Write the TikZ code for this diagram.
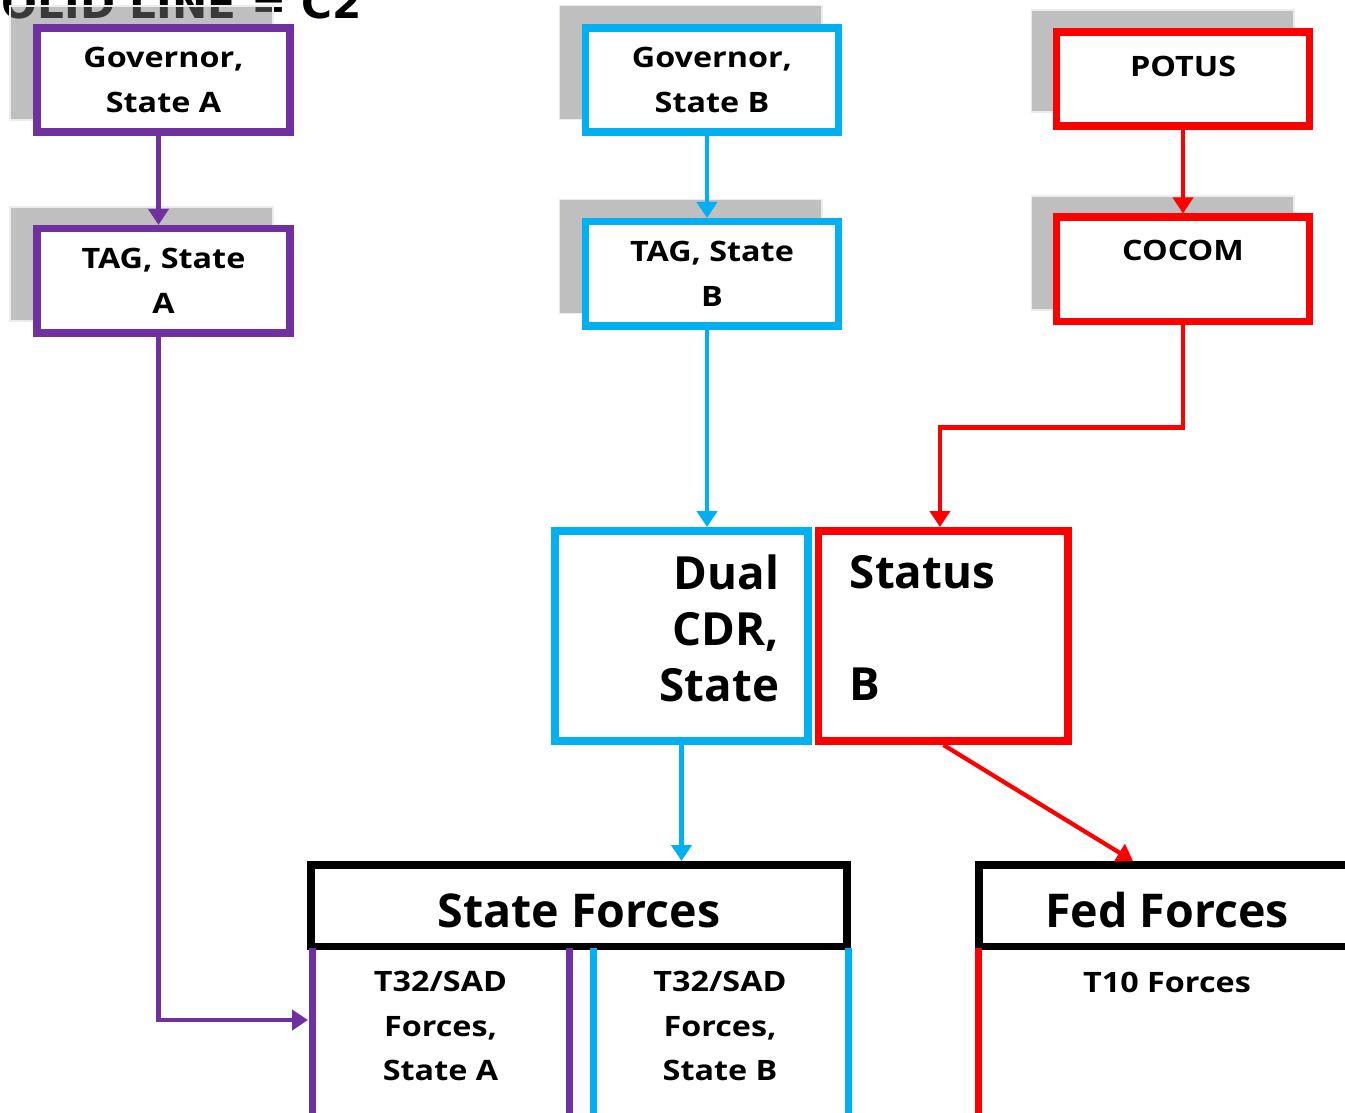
\documentclass[tikz,border=0pt]{standalone}
\usepackage{fontspec}
\setmainfont{Open Sans}
\newfontfamily\boxsans{Open Sans}[FakeStretch=1.15]
\newfontfamily\legendfont{DejaVu Sans}
\usepackage{xcolor}
\usetikzlibrary{shapes.geometric, arrows.meta, positioning, calc}

\definecolor{govpurple}{HTML}{7030A0}
\definecolor{statecyan}{HTML}{00B0F0}
\definecolor{fedred}{HTML}{FF0000}
\definecolor{shadowgray}{HTML}{797979}

\newcommand{\boxtxt}{\boxsans\fontsize{16}{25.6}\selectfont\bfseries}
\newcommand{\cdrtxt}{\fontsize{26}{31.9}\selectfont\bfseries}
\newcommand{\headtxt}{\fontsize{26.5}{30}\selectfont\bfseries}
\newcommand{\coltxt}{\boxsans\fontsize{16}{25.3}\selectfont\bfseries}

\tikzstyle{shadowbox} = [rectangle, minimum width=5.26cm, minimum height=2.28cm, fill=shadowgray, fill opacity=0.48, draw=gray!15, line width=0.6pt]
\tikzstyle{purplebox} = [rectangle, minimum width=5.07cm, minimum height=2.09cm, align=center, draw=govpurple, line width=0.15cm, fill=white, font=\boxtxt]
\tikzstyle{cyanbox} = [rectangle, minimum width=5.07cm, minimum height=2.09cm, align=center, draw=statecyan, line width=0.15cm, fill=white, font=\boxtxt]
\tikzstyle{redbox} = [rectangle, minimum width=5.07cm, minimum height=2.09cm, align=center, draw=fedred, line width=0.15cm, fill=white, font=\boxtxt]
\tikzstyle{forcebox} = [rectangle, minimum height=1.63cm, draw=black, line width=0.15cm, fill=white, font=\headtxt, text height=0.88cm]
\tikzstyle{colline} = [line width=0.14cm]
\tikzstyle{purplearrow} = [govpurple, line width=0.085cm, -{Triangle[width=0.4cm,length=0.32cm]}]
\tikzstyle{cyanarrow} = [statecyan, line width=0.085cm, -{Triangle[width=0.4cm,length=0.32cm]}]
\tikzstyle{redarrow} = [fedred, line width=0.085cm, -{Triangle[width=0.4cm,length=0.32cm]}]

\begin{document}
\begin{tikzpicture}[x=0.02cm, y=-0.02cm]
    \useasboundingbox (0,0) rectangle (1345,1112);

    % Legenda in alto
    \node (legend) [anchor=base east, inner sep=0, font=\legendfont\fontsize{24}{28}\selectfont\bfseries] at (362,18) {SOLID LINE = C2};

    % Ombre
    \node (govAsh) [shadowbox] at (141.5,63) {};
    \node (tagAsh) [shadowbox] at (141.5,264) {};
    \node (govBsh) [shadowbox] at (690.5,62.5) {};
    \node (tagBsh) [shadowbox] at (690.5,256.5) {};
    \node (potusSh) [shadowbox, minimum height=2.04cm] at (1162.5,61) {};
    \node (cocomSh) [shadowbox] at (1162.5,253) {};

    % Nodi del diagramma
    \node (govA) [purplebox] at (163.5,80) {Governor,\\State A};
    \node (tagA) [purplebox, below of=govA, node distance=4.02cm] {TAG, State\\A};
    \node (govB) [cyanbox] at (712,80) {Governor,\\State B};
    \node (tagB) [cyanbox, below of=govB, node distance=3.88cm] {TAG, State\\B};
    \node (potus) [redbox, minimum height=1.89cm, text depth=0.52cm] at (1183,79) {POTUS};
    \node (cocom) [redbox, below of=potus, node distance=3.81cm, text depth=0.76cm] {COCOM};
    \node (dual) [cyanbox, minimum height=4.21cm, text width=3.9cm, align=right, font=\cdrtxt, text depth=2.56cm] at (681.5,636) {Dual\\CDR,\\State};
    \node (status) [redbox, right of=dual, node distance=5.24cm, minimum width=4.99cm, minimum height=4.21cm, text width=3.74cm, align=left, font=\cdrtxt, text depth=2.56cm] {Status\\~\\B};
    \node (stateF) [forcebox, minimum width=10.73cm] at (579,905.5) {State Forces};
    \node (fedF) [forcebox, minimum width=7.53cm] at (1167,905.5) {Fed Forces};

    % Colonne sotto le forze
    \draw [colline, govpurple] (312,948) -- (312,1125);
    \draw [colline, govpurple] (569,948) -- (569,1125);
    \draw [colline, statecyan] (593,948) -- (593,1125);
    \draw [colline, statecyan] (848,948) -- (848,1125);
    \draw [colline, fedred] (978,948) -- (978,1125);
    \node (colA) [align=center, font=\coltxt] at (440.5,1026) {T32/SAD\\Forces,\\State A};
    \node (colB) [align=center, font=\coltxt] at (720,1026) {T32/SAD\\Forces,\\State B};
    \node (t10) [font=\coltxt] at (1167,982) {T10 Forces};
    \coordinate (aIn) at (308,1020);

    % Frecce del diagramma
    \draw [purplearrow] ([xshift=-0.1cm]govA.south) -- ([xshift=-0.1cm]tagA.north);
    \draw [purplearrow] ([xshift=-0.1cm]tagA.south) |- (aIn);
    \draw [cyanarrow] ([xshift=-0.1cm]govB.south) -- ([xshift=-0.1cm]tagB.north);
    \draw [cyanarrow] ([xshift=-0.1cm]tagB.south) -- ([xshift=-0.1cm]tagB.south |- dual.north);
    \draw [cyanarrow] (dual.south) -- (dual.south |- stateF.north);
    \draw [redarrow] (potus) -- (cocom);
    \draw [redarrow] (cocom.south) -- ++(0,102) -| ([xshift=-0.07cm]status.north);
    \draw [redarrow] (status.south) -- ([xshift=-0.68cm]fedF.north);

\end{tikzpicture}
\end{document}
